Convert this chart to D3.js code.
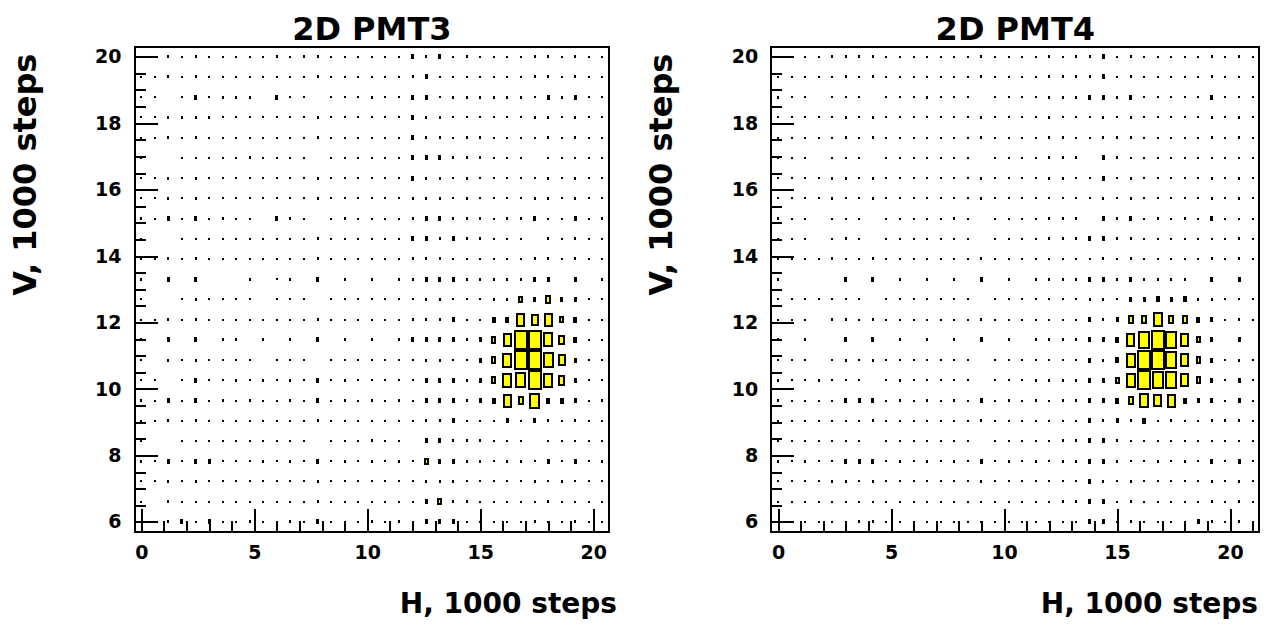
<!DOCTYPE html>
<html>
<head>
<meta charset="utf-8">
<script src="https://cdn.jsdelivr.net/npm/d3@7"></script>
<style>
  body { margin: 0; background: #fff; }
  svg text { font-family: "DejaVu Sans", "Liberation Sans", Arial, sans-serif; font-weight: bold; fill: #000; }
</style>
</head>
<body>
<svg id="chart" width="1270" height="627"></svg>
<script>
// scan grid: V from 6 to 20 in 24 points (top row first), H from 0 in 0.6 steps
const vFirst = 6, vLast = 20, vPoints = 24;
const hFirst = 0, hStep = 0.6;

// box size per bin, 0..20 written as base-36 digits (k = 20 = full bin)
const pmt3Rows = [
  "2232322222" + "3233222222" + "5352322223" + "32322",
  "2232322222" + "2223222222" + "3522222223" + "32322",
  "2202523330" + "5220222322" + "5523333332" + "53522",
  "2233332222" + "2223222222" + "5332222223" + "32322",
  "2232322222" + "2223222222" + "5332332222" + "32322",
  "2002222232" + "2220222222" + "5553332220" + "22222",
  "2232322222" + "2223222222" + "5332322222" + "32322",
  "2232322222" + "2223222222" + "3332322223" + "32322",
  "3252523220" + "5320232222" + "3553332335" + "22523",
  "2002222222" + "2223222222" + "5535332220" + "32322",
  "2232322222" + "2223222222" + "3332222223" + "32322",
  "3050500030" + "2305030303" + "3555333335" + "50503",
  "2002322220" + "2220222222" + "2332223375" + "95522",
  "2232322222" + "2223222222" + "33352266ec" + "e7622",
  "3050503303" + "0305030303" + "5555358ekk" + "fa622",
  "2032322220" + "2220222222" + "2332258fkk" + "gc522",
  "2202522323" + "2325232222" + "2555358fgk" + "fb522",
  "3252523232" + "2325232323" + "2555356e9g" + "66523",
  "2232322222" + "2223222222" + "2335222525" + "32322",
  "2002222222" + "2220222322" + "0553332220" + "22222",
  "3252552223" + "2325232323" + "2755332332" + "52523",
  "2232322222" + "2223222222" + "2333222223" + "23222",
  "2032222222" + "2223222222" + "2573322222" + "32222",
  "2235252232" + "2325222323" + "2555222223" + "22322"
];

const pmt4Rows = [
  "2222333322" + "2222232222" + "3233523222" + "223232",
  "2222232322" + "2222232222" + "3333523222" + "223222",
  "3220222022" + "2322202222" + "3335535222" + "225222",
  "2222232322" + "2222232222" + "3222323222" + "223232",
  "2222232322" + "2222232222" + "3322333222" + "223232",
  "2220222022" + "2222202222" + "3330532222" + "222222",
  "2222332322" + "2222232222" + "3322523222" + "223232",
  "2222322322" + "2222232222" + "2222323222" + "223232",
  "3220222022" + "2223202222" + "3330535232" + "325222",
  "2220232022" + "2222202222" + "3335533222" + "222232",
  "2222322322" + "2222232222" + "2222323222" + "223232",
  "3000050503" + "0303050303" + "3335535333" + "305050",
  "2222222022" + "2222202222" + "2223325565" + "633222",
  "2220332322" + "2222232222" + "22253599f9" + "965232",
  "3030050503" + "0303050303" + "333556eiki" + "e75050",
  "2220232322" + "2222202222" + "222536fkki" + "e85232",
  "3223222023" + "2222202223" + "333557fkii" + "e85252",
  "3222255523" + "2323252323" + "2335569fde" + "655252",
  "2222222322" + "2222232222" + "2225353623" + "223332",
  "2222222022" + "2222202222" + "2335532222" + "222222",
  "3232255523" + "2323252323" + "2335532232" + "325252",
  "2222332322" + "2222232222" + "2225323222" + "223232",
  "2222222222" + "2222222222" + "2335523222" + "223232",
  "2222223322" + "2222222222" + "2225523222" + "253232"
];

const boxMax = 20;
const yMajorTicks = [6, 8, 10, 12, 14, 16, 18, 20];
const xMajorTicks = [0, 5, 10, 15, 20];

const panels = [
  { title: "2D PMT3", rows: pmt3Rows, x0: 141.3, hTitleEnd: 617 },
  { title: "2D PMT4", rows: pmt4Rows, x0: 778, hTitleEnd: 1258 }
];

const svg = d3.select("#chart");
const pxPerH = 22.6;
const vStep = (vLast - vFirst) / (vPoints - 1);

const y = d3.scaleLinear()
  .domain([vFirst - vStep / 2, vLast + vStep / 2])
  .range([532, 46.6]);

panels.forEach(p => {
  const nCols = p.rows[0].length;
  const hMin = hFirst - hStep / 2;
  const hMax = hFirst + (nCols - 0.5) * hStep;
  const x = d3.scaleLinear()
    .domain([hMin, hMax])
    .range([p.x0 + hMin * pxPerH, p.x0 + hMax * pxPerH]);

  const [left, right] = x.range();
  const [bottom, top] = y.range();
  const g = svg.append("g");

  // boxes, size proportional to content
  const bw = x(hStep) - x(0);
  const bh = y(vFirst) - y(vFirst + vStep);
  const cells = [];
  p.rows.forEach((row, r) => {
    const v = vLast - r * vStep;
    row.split("").forEach((ch, c) => {
      const val = parseInt(ch, 36);
      if (val > 0) cells.push({ h: hFirst + c * hStep, v: v, val: val });
    });
  });

  const boxes = g.append("g").attr("shape-rendering", "crispEdges");
  cells.forEach(d => {
    const w = Math.max(Math.round(bw * d.val / boxMax), 2);
    const h = Math.max(Math.round(bh * d.val / boxMax), 2);
    const bx = Math.round(x(d.h) - w / 2), by = Math.round(y(d.v) - h / 2);
    boxes.append("rect")
      .attr("x", bx).attr("y", by)
      .attr("width", w).attr("height", h)
      .attr("fill", "#000");
    if (w > 4 && h > 4) {
      boxes.append("rect")
        .attr("x", bx + 2).attr("y", by + 2)
        .attr("width", w - 4).attr("height", h - 4)
        .attr("fill", "#ffff00");
    }
  });

  // x axis: major + minor ticks drawn inside the frame
  const xMinor = d3.range(Math.ceil(hMin), Math.floor(hMax) + 1).filter(t => t % 5 !== 0);
  g.append("g")
    .attr("transform", `translate(0,${bottom})`)
    .call(d3.axisBottom(x).tickValues(xMinor).tickSize(-11).tickFormat(""))
    .call(a => a.select(".domain").remove());
  const xAx = g.append("g")
    .attr("transform", `translate(0,${bottom})`)
    .call(d3.axisBottom(x).tickValues(xMajorTicks).tickSize(-23).tickPadding(14).tickFormat(d3.format("d")))
    .call(a => a.select(".domain").remove());
  xAx.selectAll("text").attr("font-size", 19);

  // y axis
  const yMinor = d3.range(vFirst, vLast + 0.01, 0.5).filter(t => t % 2 !== 0);
  g.append("g")
    .attr("transform", `translate(${left},0)`)
    .call(d3.axisLeft(y).tickValues(yMinor).tickSize(-11).tickFormat(""))
    .call(a => a.select(".domain").remove());
  const yAx = g.append("g")
    .attr("transform", `translate(${left},0)`)
    .call(d3.axisLeft(y).tickValues(yMajorTicks).tickSize(-23).tickPadding(13).tickFormat(d3.format("d")))
    .call(a => a.select(".domain").remove());
  yAx.selectAll("text").attr("font-size", 19);

  g.selectAll(".tick line").attr("stroke", "#000").attr("stroke-width", 2)
    .attr("shape-rendering", "crispEdges");

  // frame
  g.append("rect")
    .attr("x", left).attr("y", top)
    .attr("width", right - left).attr("height", bottom - top)
    .attr("fill", "none").attr("stroke", "#000").attr("stroke-width", 2)
    .attr("shape-rendering", "crispEdges");

  // titles
  g.append("text")
    .attr("x", (left + right) / 2).attr("y", 40)
    .attr("text-anchor", "middle").attr("font-size", 32)
    .text(p.title);

  g.append("text")
    .attr("x", p.hTitleEnd).attr("y", 613)
    .attr("text-anchor", "end").attr("font-size", 28)
    .text("H, 1000 steps");

  g.append("text")
    .attr("transform", `translate(${left - 99},${top + 7}) rotate(-90)`)
    .attr("text-anchor", "end").attr("font-size", 32)
    .text("V, 1000 steps");
});
</script>
</body>
</html>
